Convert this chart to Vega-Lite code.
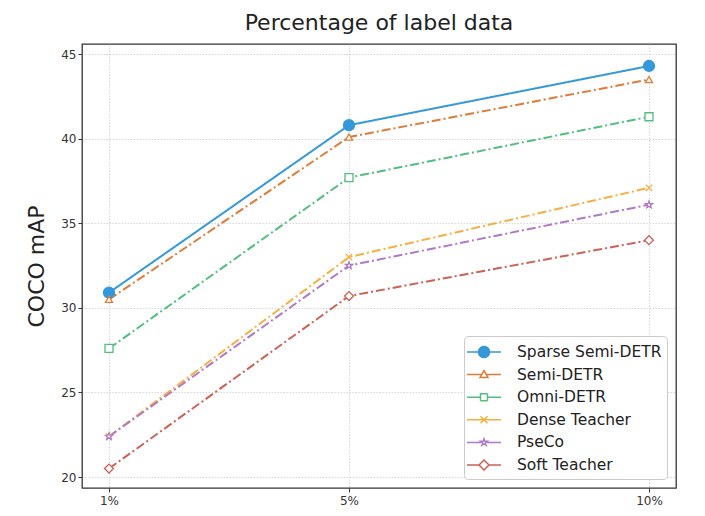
{
  "$schema": "https://vega.github.io/schema/vega-lite/v6.json",
  "width": 594,
  "height": 444,
  "autosize": "none",
  "padding": {"left": 82, "top": 44, "right": 29, "bottom": 28},
  "background": "white",
  "title": {"text": "Percentage of label data", "fontSize": 22, "fontWeight": "normal", "font": "DejaVu Sans", "color": "#222", "anchor": "middle", "offset": 9},
  "config": {
    "view": {"stroke": "#333", "strokeWidth": 1.3},
    "axis": {"labelFont": "DejaVu Sans", "labelFontSize": 12, "labelColor": "#333", "tickColor": "#333", "tickSize": 4, "domain": false, "gridColor": "#cccccc", "gridDash": [1.5, 1.5], "gridWidth": 0.8, "titleFont": "DejaVu Sans", "titleFontWeight": "normal", "titleColor": "#222"}
  },
  "data": {"values": [
    {"series": "Sparse Semi-DETR", "pct": 1, "map": 30.9},
    {"series": "Sparse Semi-DETR", "pct": 5, "map": 40.8},
    {"series": "Sparse Semi-DETR", "pct": 10, "map": 44.3},
    {"series": "Semi-DETR", "pct": 1, "map": 30.5},
    {"series": "Semi-DETR", "pct": 5, "map": 40.1},
    {"series": "Semi-DETR", "pct": 10, "map": 43.5},
    {"series": "Omni-DETR", "pct": 1, "map": 27.6},
    {"series": "Omni-DETR", "pct": 5, "map": 37.7},
    {"series": "Omni-DETR", "pct": 10, "map": 41.3},
    {"series": "Dense Teacher", "pct": 1, "map": 22.4},
    {"series": "Dense Teacher", "pct": 5, "map": 33.0},
    {"series": "Dense Teacher", "pct": 10, "map": 37.1},
    {"series": "PseCo", "pct": 1, "map": 22.4},
    {"series": "PseCo", "pct": 5, "map": 32.5},
    {"series": "PseCo", "pct": 10, "map": 36.1},
    {"series": "Soft Teacher", "pct": 1, "map": 20.5},
    {"series": "Soft Teacher", "pct": 5, "map": 30.7},
    {"series": "Soft Teacher", "pct": 10, "map": 34.0}
  ]},
  "encoding": {
    "x": {"field": "pct", "type": "quantitative", "scale": {"domain": [0.55, 10.45], "nice": false, "zero": false}, "axis": {"values": [1, 5, 10], "labelExpr": "datum.value + '%'", "title": null, "grid": true, "labelPadding": 3}},
    "y": {"field": "map", "type": "quantitative", "scale": {"domain": [19.35, 45.6], "nice": false, "zero": false}, "axis": {"values": [20, 25, 30, 35, 40, 45], "title": "COCO mAP", "titleFontSize": 22, "titlePadding": 12, "grid": true}},
    "color": {"field": "series", "type": "nominal",
      "scale": {"domain": ["Sparse Semi-DETR", "Semi-DETR", "Omni-DETR", "Dense Teacher", "PseCo", "Soft Teacher"], "range": ["#3498db", "#e07b39", "#52be80", "#f5b041", "#af7ac5", "#cd6155"]},
      "legend": {"title": null, "orient": "bottom-right", "offset": 9, "padding": 5, "symbolOffset": 4, "strokeColor": "#cccccc", "cornerRadius": 4, "fillColor": "white", "labelFont": "DejaVu Sans", "labelFontSize": 15.5, "labelColor": "#222", "symbolSize": 400, "symbolStrokeWidth": 1.5, "labelOffset": 22, "rowPadding": 2.6,
        "encode": {"symbols": {"update": {
          "shape": {"signal": "datum.value === 'Sparse Semi-DETR' ? 'M-1.7,0H1.7M0.55,0A0.55,0.55 0 1,1 -0.55,0A0.55,0.55 0 1,1 0.55,0Z' : datum.value === 'Semi-DETR' ? 'M-1.7,0H-0.25M0.25,0H1.7M0,-0.4L0.4,0.3L-0.4,0.3Z' : datum.value === 'Omni-DETR' ? 'M-1.7,0H-0.35M0.35,0H1.7M-0.35,-0.35H0.35V0.35H-0.35Z' : datum.value === 'Dense Teacher' ? 'M-1.7,0H1.7M-0.35,-0.35L0.35,0.35M-0.35,0.35L0.35,-0.35' : datum.value === 'PseCo' ? 'M-1.7,0H-0.3M0.3,0H1.7M0,-0.35L0.082,-0.113L0.333,-0.108L0.133,0.043L0.206,0.283L0,0.14L-0.206,0.283L-0.133,0.043L-0.333,-0.108L-0.082,-0.113Z' : 'M-1.7,0H-0.5M0.5,0H1.7M0,-0.5L0.5,0L0,0.5L-0.5,0Z'"},
          "fill": {"signal": "datum.value === 'Sparse Semi-DETR' ? '#3498db' : 'white'"},
          "strokeWidth": {"value": 1.5},
          "strokeDash": {"value": [1, 0]},
          "opacity": {"value": 1}
        }}}
      }
    }
  },
  "layer": [
    {
      "mark": {"type": "line", "strokeWidth": 2},
      "encoding": {
        "strokeDash": {"condition": {"test": "datum.series === 'Sparse Semi-DETR'", "value": [1, 0]}, "value": [9, 3, 2, 3]}
      }
    },
    {
      "mark": {"type": "point", "filled": false, "strokeWidth": 1.3, "opacity": 1},
      "encoding": {
        "shape": {"condition": [
          {"test": "datum.series === 'Sparse Semi-DETR'", "value": "circle"},
          {"test": "datum.series === 'Semi-DETR'", "value": "triangle-up"},
          {"test": "datum.series === 'Omni-DETR'", "value": "square"},
          {"test": "datum.series === 'Dense Teacher'", "value": "M-1,-1L1,1M-1,1L1,-1"},
          {"test": "datum.series === 'PseCo'", "value": "M0,-1L0.235,-0.324L0.951,-0.309L0.380,0.124L0.588,0.809L0,0.4L-0.588,0.809L-0.380,0.124L-0.951,-0.309L-0.235,-0.324Z"}
        ], "value": "diamond"},
        "size": {"condition": [
          {"test": "datum.series === 'Sparse Semi-DETR'", "value": 120},
          {"test": "datum.series === 'Semi-DETR'", "value": 50},
          {"test": "datum.series === 'Omni-DETR'", "value": 64},
          {"test": "datum.series === 'Dense Teacher'", "value": 40},
          {"test": "datum.series === 'PseCo'", "value": 55}
        ], "value": 80},
        "fill": {"condition": {"test": "datum.series === 'Sparse Semi-DETR'", "value": "#3498db"}, "value": "white"}
      }
    }
  ]
}
